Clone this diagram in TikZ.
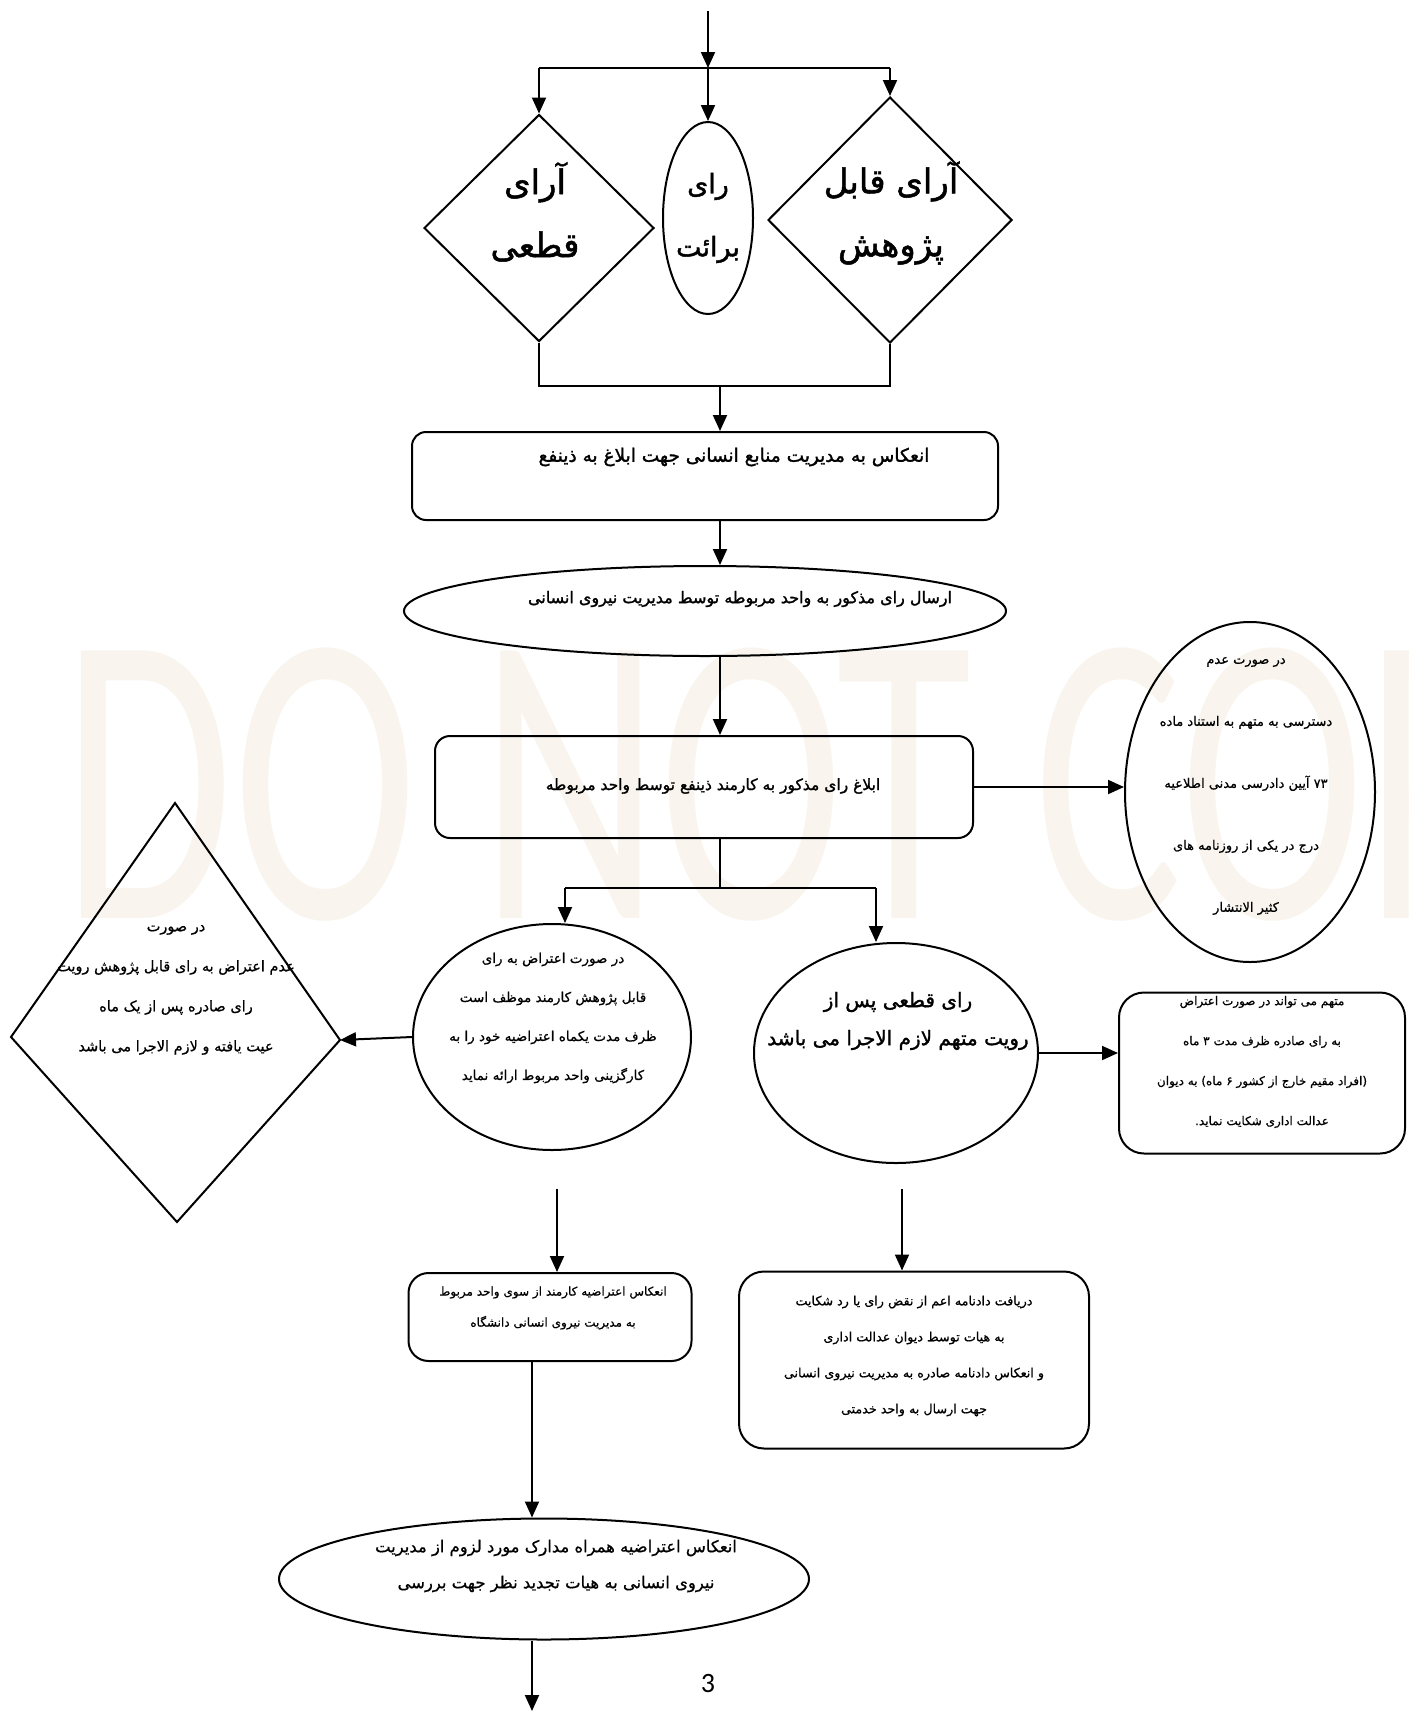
\documentclass[tikz,border=0pt]{standalone}
\usepackage{fontspec}
\usetikzlibrary{shapes.geometric,arrows.meta}
\newfontfamily\farsi[Script=Arabic,FakeBold=0.7]{DejaVu Sans}
\newfontfamily\farsib[Script=Arabic,FakeBold=1.5]{DejaVu Sans}
\newfontfamily\calfont{Carlito}
\TeXXeTstate=1
\newcommand{\rtlline}[1]{\beginR #1\endR}
\definecolor{wmcol}{RGB}{249,245,238}
\begin{document}
\begin{tikzpicture}[x=1pt,y=-1pt,
  ln/.style={line width=2pt},
  arr/.style={line width=2pt,-{Triangle[length=16pt,width=14pt]}},
  box/.style={draw,line width=2pt,rectangle,rounded corners=#1,inner sep=0pt},
  ell/.style={draw,line width=2pt,ellipse,inner sep=0pt},
  dia/.style={draw,line width=2pt,diamond,inner sep=0pt},
  txt/.style={inner sep=0pt,align=center}]
\useasboundingbox (0,0) rectangle (1408,1713);
% watermark
\begin{scope}
\clip (0,0) rectangle (1408,1713);
\node[anchor=base west,inner sep=0pt,text=wmcol] (wm) at (62,918)
  {\scalebox{1}[1.5]{\fontsize{278}{278}\selectfont\calfont DO NOT COPY}};
\end{scope}
% shapes
\node[dia,minimum width=230pt,minimum height=227pt] (d1) at (539,228) {};
\node[ell,minimum width=90pt,minimum height=192pt] (e1) at (708,218) {};
\node[dia,minimum width=244pt,minimum height=246pt] (d2) at (890,220) {};
\node[box=14pt,minimum width=586pt,minimum height=88pt] (r1) at (705,476) {};
\node[ell,minimum width=602pt,minimum height=90pt] (e2) at (705,611) {};
\node[box=15pt,minimum width=538pt,minimum height=102pt] (r3) at (704,787) {};
\node[ell,minimum width=250pt,minimum height=340pt] (e3) at (1250,792) {};
% left kite-shaped decision
\coordinate (d3t) at (175,803);
\coordinate (d3r) at (340,1040);
\coordinate (d3b) at (177,1222);
\coordinate (d3l) at (11,1037);
\draw[ln,line join=miter] (d3t) -- (d3r) -- (d3b) -- (d3l) -- cycle;
\node[ell,minimum width=278pt,minimum height=226pt] (e4) at (552,1037) {};
\node[ell,minimum width=284pt,minimum height=220pt] (e5) at (896,1053) {};
\node[box=25pt,minimum width=286pt,minimum height=161pt] (r4) at (1262,1073) {};
\node[box=20pt,minimum width=283pt,minimum height=88pt] (r5) at (550,1317) {};
\node[box=25pt,minimum width=350pt,minimum height=177pt] (r6) at (914,1360) {};
\node[ell,minimum width=530pt,minimum height=121pt] (e6) at (544,1579) {};
% texts
\node[txt,font=\fontsize{34}{63}\selectfont\farsib] (td1) at (535,212)
  {\rtlline{آرای}\\\rtlline{قطعی}};
\node[txt,font=\fontsize{27}{63}\selectfont\farsib] (te1) at (708,218)
  {\rtlline{رای}\\\rtlline{برائت}};
\node[txt,font=\fontsize{34}{63}\selectfont\farsib] (td2) at (891,213)
  {\rtlline{آرای قابل}\\\rtlline{پژوهش}};
\node[txt,font=\fontsize{18.5}{30}\selectfont\farsib] (tr1) at (734,457)
  {\rtlline{انعکاس به مدیریت منابع انسانی جهت ابلاغ به ذینفع}};
\node[txt,font=\fontsize{16}{30}\selectfont\farsib] (te2) at (740,599)
  {\rtlline{ارسال رای مذکور به واحد مربوطه توسط مدیریت نیروی انسانی}};
\node[txt,font=\fontsize{15.5}{30}\selectfont\farsib] (tr3) at (713,786)
  {\rtlline{ابلاغ رای مذکور به کارمند ذینفع توسط واحد مربوطه}};
\node[txt,font=\fontsize{13}{62}\selectfont\farsi] (te3) at (1246,786)
  {\rtlline{در صورت عدم}\\
   \rtlline{دسترسی به متهم به استناد ماده}\\
   \rtlline{\beginL ۷۳\endL{} آیین دادرسی مدنی اطلاعیه}\\
   \rtlline{درج در یکی از روزنامه های}\\
   \rtlline{کثیر الانتشار}};
\node[txt,font=\fontsize{14.5}{40}\selectfont\farsi] (td3) at (176,990)
  {\rtlline{در صورت}\\
   \rtlline{عدم اعتراض به رای قابل پژوهش رویت}\\
   \rtlline{رای صادره پس از یک ماه}\\
   \rtlline{عیت یافته و لازم الاجرا می باشد}};
\node[txt,font=\fontsize{13.5}{39}\selectfont\farsi] (te4) at (553,1018)
  {\rtlline{در صورت اعتراض به رای}\\
   \rtlline{قابل پژوهش کارمند موظف است}\\
   \rtlline{ظرف مدت یکماه اعتراضیه خود را به}\\
   \rtlline{کارگزینی واحد مربوط ارائه نماید}};
\node[txt,font=\fontsize{20}{38}\selectfont\farsib] (te5) at (898,1021)
  {\rtlline{رای قطعی پس از}\\
   \rtlline{رویت متهم لازم الاجرا می باشد}};
\node[txt,font=\fontsize{12}{40}\selectfont\farsi] (tr4) at (1262,1062)
  {\rtlline{متهم می تواند در صورت اعتراض}\\
   \rtlline{به رای صادره ظرف مدت \beginL ۳\endL{} ماه}\\
   \rtlline{(افراد مقیم خارج از کشور \beginL ۶\endL{} ماه) به دیوان}\\
   \rtlline{عدالت اداری شکایت نماید.}};
\node[txt,font=\fontsize{12}{31}\selectfont\farsi] (tr5) at (553,1308)
  {\rtlline{انعکاس اعتراضیه کارمند از سوی واحد مربوط}\\
   \rtlline{به مدیریت نیروی انسانی دانشگاه}};
\node[txt,font=\fontsize{12.7}{36}\selectfont\farsi] (tr6) at (914,1356)
  {\rtlline{دریافت دادنامه اعم از نقض رای یا رد شکایت}\\
   \rtlline{به هیات توسط دیوان عدالت اداری}\\
   \rtlline{و انعکاس دادنامه صادره به مدیریت نیروی انسانی}\\
   \rtlline{جهت ارسال به واحد خدمتی}};
\node[txt,font=\fontsize{16.4}{36}\selectfont\farsi] (te6) at (556,1566)
  {\rtlline{انعکاس اعتراضیه همراه مدارک مورد لزوم از مدیریت}\\
   \rtlline{نیروی انسانی به هیات تجدید نظر جهت بررسی}};
\node[inner sep=0pt,font=\fontsize{28}{30}\selectfont\calfont] (pg) at (708,1683) {3};
% connector points
\coordinate (s0) at (708,11);
\coordinate (jt) at (708,68);
\coordinate (jtl) at (539,68);
\coordinate (jtr) at (890,68);
\coordinate (jbl) at (539,386);
\coordinate (jbr) at (890,386);
\coordinate (jbm) at (720,386);
\coordinate (jm) at (720,888);
\coordinate (jml) at (565,888);
\coordinate (jmr) at (876,888);
\coordinate (l1) at (557,1189);
\coordinate (l2) at (902,1189);
\coordinate (lb) at (532,1361);
\coordinate (endp) at (532,1711);
% connectors
\draw[arr] (s0) -- (jt);
\draw[ln] (jtl) -- (jtr);
\draw[arr] (jtl) -- (d1.north);
\draw[arr] (jt) -- (e1.north);
\draw[arr] (jtr) -- (d2.north);
\draw[ln] (d1.south) -- (jbl) -- (jbr) -- (d2.south);
\draw[arr] (jbm) -- (jbm |- r1.north);
\draw[arr] (jbm |- r1.south) -- (jbm |- e2.north);
\draw[arr] (jbm |- e2.south) -- (jbm |- r3.north);
\draw[arr] (r3.east) -- (e3.west |- r3.east);
\draw[ln] (jm |- r3.south) -- (jm);
\draw[ln] (jml) -- (jmr);
\draw[arr] (jml) -- (jml |- e4.north);
\draw[arr] (jmr) -- (jmr |- e5.north);
\draw[arr] (e4.west) -- (d3r);
\draw[arr] (e5.east) -- (e5.east -| r4.west);
\draw[arr] (l1) -- (l1 |- r5.north);
\draw[arr] (l2) -- (l2 |- r6.north);
\draw[arr] (lb |- r5.south) -- (lb |- e6.north);
\draw[arr] (lb |- e6.south) -- (endp);
\end{tikzpicture}
\end{document}
